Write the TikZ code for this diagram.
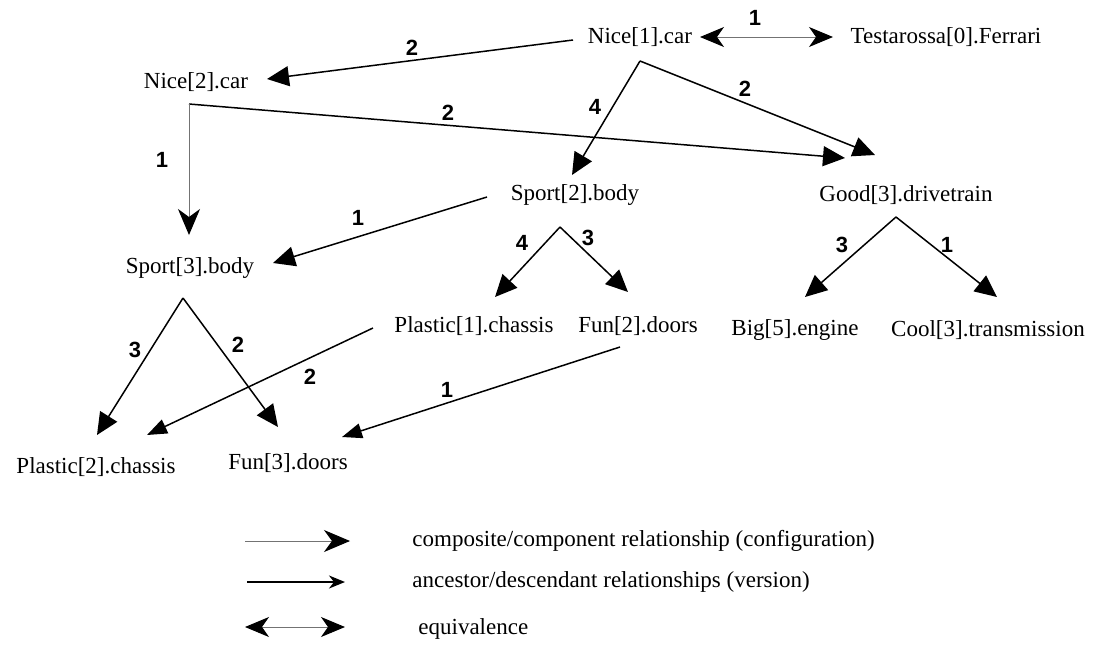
\documentclass[tikz,border=0pt]{standalone}
\usepackage{fontspec}
\setmainfont{Liberation Serif}
\newfontfamily\numfont{Liberation Sans}
\usetikzlibrary{arrows.meta}
\begin{document}
\begin{tikzpicture}[x=0.5pt,y=-0.5pt,
  item/.style={inner sep=0pt,font=\fontsize{11.5}{14}\selectfont},
  legtext/.style={inner sep=0pt,anchor=west,font=\fontsize{11.5}{14}\selectfont},
  num/.style={inner sep=0pt,font=\numfont\bfseries\fontsize{11}{12}\selectfont},
  conn/.style={line width=0.75pt,-{Triangle[length=11pt,width=10pt]}},
  smallconn/.style={line width=0.75pt,-{Triangle[length=10pt,width=7.5pt]}},
  thinconn/.style={line width=0.5pt,draw=black!55,-{Stealth[length=13pt,width=11pt,inset=4pt,color=black]}},
  versconn/.style={line width=0.75pt,-{Stealth[length=8pt,width=6.5pt,inset=2.5pt]}},
  equiv/.style={line width=0.5pt,draw=black!55,
    {Stealth[length=12pt,width=10pt,inset=3.5pt,color=black]}-{Stealth[length=12pt,width=10pt,inset=3.5pt,color=black]}}]
\useasboundingbox (0,0) rectangle (1099,644);

% items
\node[item] (nice1)    at (640,37)  {Nice[1].car};
\node[item] (ferrari)  at (946,37)  {Testarossa[0].Ferrari};
\node[item] (nice2)    at (196,82)  {Nice[2].car};
\node[item] (sport2)   at (575,195) {Sport[2].body};
\node[item] (good3)    at (906,195) {Good[3].drivetrain};
\node[item] (sport3)   at (190,268) {Sport[3].body};
\node[item] (plastic1) at (474,326) {Plastic[1].chassis};
\node[item] (fun2)     at (638,326) {Fun[2].doors};
\node[item] (big5)     at (795,330) {Big[5].engine};
\node[item] (cool3)    at (988,330) {Cool[3].transmission};
\node[item] (plastic2) at (96,467)  {Plastic[2].chassis};
\node[item] (fun3)     at (288,463) {Fun[3].doors};

% connector end points
\coordinate (nice1L)  at (700,37);
\coordinate (ferrR)   at (833,37);
\coordinate (nice1W)  at (573,40);
\coordinate (nice2E)  at (267,79);
\coordinate (nice1S)  at (640,61);
\coordinate (nice2S)  at (189,104);
\coordinate (sport2N) at (572,175);
\coordinate (good3Na) at (875,155);
\coordinate (good3Nb) at (845,158);
\coordinate (sport3N) at (189,235);
\coordinate (sport2W) at (487,197);
\coordinate (sport3E) at (273,263);
\coordinate (sport2S) at (560,227);
\coordinate (plast1N) at (495,297);
\coordinate (fun2N)   at (628,292);
\coordinate (good3S)  at (896,217);
\coordinate (big5N)   at (805,297);
\coordinate (cool3N)  at (997,297);
\coordinate (sport3S) at (183,298);
\coordinate (plast2N) at (97,435);
\coordinate (fun3N)   at (278,427);
\coordinate (plast1W) at (373,328);
\coordinate (plast2E) at (147,435);
\coordinate (fun2S)   at (620,347);
\coordinate (fun3E)   at (342,437);

% connectors
\draw[equiv] (nice1L) -- (ferrR);
\draw[conn] (nice1W) -- (nice2E);
\draw[conn] (nice2S) -- (good3Nb);
\draw[thinconn] (nice2S) -- (sport3N);
\draw[conn] (nice1S) -- (sport2N);
\draw[conn] (nice1S) -- (good3Na);
\draw[conn] (sport2W) -- (sport3E);
\draw[conn] (sport2S) -- (plast1N);
\draw[conn] (sport2S) -- (fun2N);
\draw[conn] (good3S) -- (big5N);
\draw[conn] (good3S) -- (cool3N);
\draw[conn] (sport3S) -- (plast2N);
\draw[conn] (sport3S) -- (fun3N);
\draw[smallconn] (plast1W) -- (plast2E);
\draw[smallconn] (fun2S) -- (fun3E);

% connector labels
\node[num] (l1)  at (755,18)  {1};
\node[num] (l2)  at (412,48)  {2};
\node[num] (l3)  at (448,113) {2};
\node[num] (l4)  at (162,160) {1};
\node[num] (l5)  at (595,107) {4};
\node[num] (l6)  at (745,89)  {2};
\node[num] (l7)  at (358,218) {1};
\node[num] (l8)  at (522,243) {4};
\node[num] (l9)  at (588,238) {3};
\node[num] (l10) at (842,245) {3};
\node[num] (l11) at (947,245) {1};
\node[num] (l12) at (135,350) {3};
\node[num] (l13) at (238,345) {2};
\node[num] (l14) at (310,377) {2};
\node[num] (l15) at (447,390) {1};

% legend
\coordinate (k1a) at (245,541); \coordinate (k1b) at (350,541);
\coordinate (k2a) at (247,582); \coordinate (k2b) at (345,582);
\coordinate (k3a) at (245,627); \coordinate (k3b) at (345,627);
\draw[thinconn] (k1a) -- (k1b);
\draw[versconn] (k2a) -- (k2b);
\draw[equiv] (k3a) -- (k3b);
\node[legtext] (t1) at (412,541) {composite/component relationship (configuration)};
\node[legtext] (t2) at (412,582) {ancestor/descendant relationships (version)};
\node[legtext] (t3) at (418,629) {equivalence};
\end{tikzpicture}
\end{document}
